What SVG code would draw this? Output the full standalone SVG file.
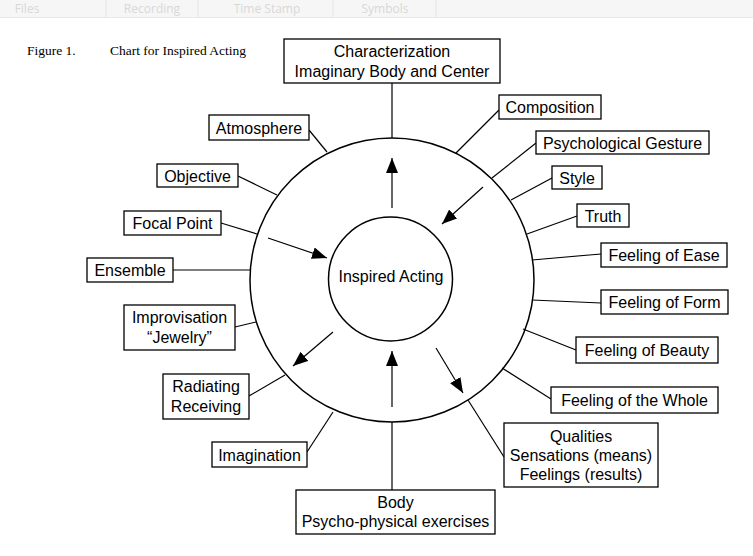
<svg xmlns="http://www.w3.org/2000/svg" width="753" height="556" viewBox="0 0 753 556">
<style>
.bar{fill:#f6f6f6}
.tab{font-family:"Open Sans","Liberation Sans",sans-serif;font-size:12px;fill:#d8d8d8;text-anchor:middle}
.div{stroke:#e4e4e4;stroke-width:1}
.cap{font-family:"Liberation Serif",serif;font-size:13.5px;fill:#000}
.box{fill:#fff;stroke:#000;stroke-width:1.3}
.t{font-family:"Liberation Sans",Arial,sans-serif;font-size:16px;fill:#000;text-anchor:middle}
.ln{stroke:#000;stroke-width:1.2;fill:none}
.circ{fill:none;stroke:#000;stroke-width:1.5}
</style>
<defs>
<marker id="ah" markerUnits="userSpaceOnUse" markerWidth="16" markerHeight="13" refX="15" refY="6" orient="auto">
<path d="M0,0 L15,6 L0,12 z" fill="#000"/>
</marker>
</defs>
<rect width="753" height="556" fill="#fff"/>
<g id="header">
<rect class="bar" x="0" y="0" width="753" height="17"/>
<line x1="0" y1="17.5" x2="753" y2="17.5" stroke="#e8e8e8"/>
<line class="div" x1="106" y1="0" x2="106" y2="17"/>
<line class="div" x1="198" y1="0" x2="198" y2="17"/>
<line class="div" x1="333" y1="0" x2="333" y2="17"/>
<line class="div" x1="436" y1="0" x2="436" y2="17"/>
<text class="tab" x="27" y="13">Files</text>
<text class="tab" x="152" y="13">Recording</text>
<text class="tab" x="267" y="13">Time Stamp</text>
<text class="tab" x="385" y="13">Symbols</text>
</g>
<g id="caption">
<text class="cap" x="27" y="55">Figure 1.</text>
<text class="cap" x="110" y="55">Chart for Inspired Acting</text>
</g>
<g id="connectors">
<circle class="circ" cx="392" cy="280" r="142"/>
<line class="ln" x1="392" y1="83" x2="392" y2="138"/>
<line class="ln" x1="499" y1="110" x2="456" y2="153"/>
<line class="ln" x1="536" y1="143" x2="492" y2="178"/>
<line class="ln" x1="552" y1="178" x2="511" y2="200"/>
<line class="ln" x1="577" y1="216" x2="527" y2="234"/>
<line class="ln" x1="601" y1="254" x2="532" y2="260"/>
<line class="ln" x1="601" y1="303" x2="532" y2="300"/>
<line class="ln" x1="576" y1="350" x2="523" y2="329"/>
<line class="ln" x1="551" y1="399" x2="502" y2="368"/>
<line class="ln" x1="504" y1="457" x2="468" y2="400"/>
<line class="ln" x1="392" y1="422" x2="392" y2="490"/>
<line class="ln" x1="307" y1="452" x2="333" y2="412"/>
<line class="ln" x1="249" y1="396" x2="285" y2="375"/>
<line class="ln" x1="235" y1="327" x2="256" y2="322"/>
<line class="ln" x1="173" y1="270" x2="250" y2="270"/>
<line class="ln" x1="221" y1="223" x2="257" y2="234"/>
<line class="ln" x1="238" y1="176" x2="277" y2="195"/>
<line class="ln" x1="309" y1="130" x2="327" y2="152"/>
<line class="ln" x1="392" y1="208" x2="392" y2="158" marker-end="url(#ah)"/>
<line class="ln" x1="483" y1="187" x2="442" y2="224" marker-end="url(#ah)"/>
<line class="ln" x1="268" y1="238" x2="327" y2="258" marker-end="url(#ah)"/>
<line class="ln" x1="333" y1="332" x2="293" y2="366" marker-end="url(#ah)"/>
<line class="ln" x1="392" y1="407" x2="392" y2="351" marker-end="url(#ah)"/>
<line class="ln" x1="436" y1="348" x2="463" y2="393" marker-end="url(#ah)"/>
</g>
<g id="center">
<circle class="circ" cx="390.5" cy="279" r="62"/>
<text class="t" x="391" y="282">Inspired Acting</text>
</g>
<g id="characterization">
<rect class="box" x="284" y="39" width="216" height="44"/>
<text class="t" x="392" y="56.5">Characterization</text>
<text class="t" x="392" y="76.5">Imaginary Body and Center</text>
</g>
<g id="composition">
<rect class="box" x="499" y="95" width="102" height="24"/>
<text class="t" x="550" y="113">Composition</text>
</g>
<g id="psychological-gesture">
<rect class="box" x="536" y="131" width="173" height="23"/>
<text class="t" x="622.5" y="148.5">Psychological Gesture</text>
</g>
<g id="style">
<rect class="box" x="552" y="166" width="50" height="23"/>
<text class="t" x="577" y="183.5">Style</text>
</g>
<g id="truth">
<rect class="box" x="577" y="204" width="52" height="23"/>
<text class="t" x="603" y="221.5">Truth</text>
</g>
<g id="feeling-ease">
<rect class="box" x="601" y="243" width="126" height="24"/>
<text class="t" x="664" y="261">Feeling of Ease</text>
</g>
<g id="feeling-form">
<rect class="box" x="601" y="290" width="127" height="24"/>
<text class="t" x="664.5" y="308">Feeling of Form</text>
</g>
<g id="feeling-beauty">
<rect class="box" x="576" y="337" width="142" height="26"/>
<text class="t" x="647" y="356">Feeling of Beauty</text>
</g>
<g id="feeling-whole">
<rect class="box" x="551" y="387" width="167" height="26"/>
<text class="t" x="634.5" y="406">Feeling of the Whole</text>
</g>
<g id="qualities">
<rect class="box" x="504" y="423" width="154" height="64"/>
<text class="t" x="581" y="442">Qualities</text>
<text class="t" x="581" y="461">Sensations (means)</text>
<text class="t" x="581" y="480">Feelings (results)</text>
</g>
<g id="body">
<rect class="box" x="296" y="490" width="199" height="44"/>
<text class="t" x="395.5" y="508">Body</text>
<text class="t" x="395.5" y="527">Psycho-physical exercises</text>
</g>
<g id="imagination">
<rect class="box" x="212" y="442" width="95" height="25"/>
<text class="t" x="259.5" y="460.5">Imagination</text>
</g>
<g id="radiating">
<rect class="box" x="163" y="374" width="86" height="45"/>
<text class="t" x="206" y="392">Radiating</text>
<text class="t" x="206" y="412">Receiving</text>
</g>
<g id="improvisation">
<rect class="box" x="124" y="305" width="111" height="45"/>
<text class="t" x="179.5" y="323">Improvisation</text>
<text class="t" x="179.5" y="343">“Jewelry”</text>
</g>
<g id="ensemble">
<rect class="box" x="87" y="258" width="86" height="24"/>
<text class="t" x="130" y="276">Ensemble</text>
</g>
<g id="focal-point">
<rect class="box" x="124" y="211" width="97" height="24"/>
<text class="t" x="172.5" y="229">Focal Point</text>
</g>
<g id="objective">
<rect class="box" x="157" y="164" width="81" height="23"/>
<text class="t" x="197.5" y="181.5">Objective</text>
</g>
<g id="atmosphere">
<rect class="box" x="209" y="115" width="100" height="25"/>
<text class="t" x="259" y="133.5">Atmosphere</text>
</g>
</svg>
